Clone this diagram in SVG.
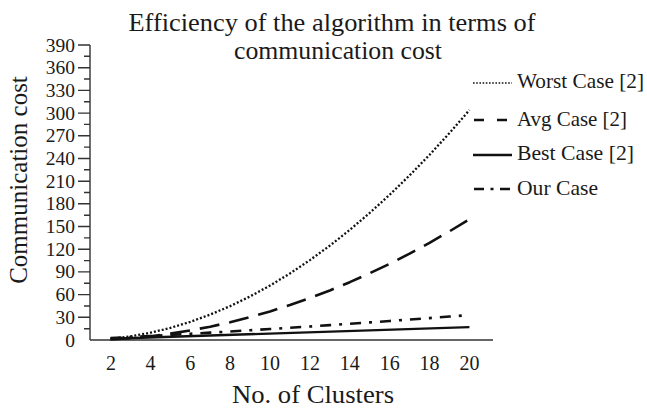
<svg xmlns="http://www.w3.org/2000/svg" width="647" height="408" viewBox="0 0 647 408">
<style>
text{font-family:"Liberation Serif","Times New Roman",serif;fill:#1a1a1a}
.tl{font-size:19.5px;text-anchor:end}
.xl{font-size:20px;text-anchor:middle}
.lg{font-size:21px}
.ax{stroke:#333;stroke-width:1.4;fill:none}
.c{fill:none;stroke:#111;stroke-linecap:butt;stroke-linejoin:round}
.worst{stroke-width:2.3;stroke-dasharray:2 2}
.avg{stroke-width:2.6;stroke-dasharray:20 10}
.best{stroke-width:2.4}
.our{stroke-width:2.6;stroke-dasharray:11 8 3 8}
</style>
<g id="title">
<text x="332" y="31" font-size="26" text-anchor="middle" textLength="407" lengthAdjust="spacingAndGlyphs">Efficiency of the algorithm in terms of</text>
<text x="338" y="59" font-size="26" text-anchor="middle" textLength="208" lengthAdjust="spacingAndGlyphs">communication cost</text>
</g>
<g id="y-axis">
<line class="ax" x1="90" y1="45" x2="90" y2="340"/>
<path class="ax" d="M78 45H90M78 67.7H90M78 90.4H90M78 113.1H90M78 135.8H90M78 158.5H90M78 181.2H90M78 203.8H90M78 226.5H90M78 249.2H90M78 271.9H90M78 294.6H90M78 317.3H90"/>
<path class="ax" d="M84 56.3H90M84 79H90M84 101.7H90M84 124.4H90M84 147.1H90M84 169.8H90M84 192.5H90M84 215.2H90M84 237.9H90M84 260.6H90M84 283.3H90M84 306H90M84 328.7H90"/>
<text class="tl" x="75" y="51.5">390</text>
<text class="tl" x="75" y="74.2">360</text>
<text class="tl" x="75" y="96.9">330</text>
<text class="tl" x="75" y="119.6">300</text>
<text class="tl" x="75" y="142.3">270</text>
<text class="tl" x="75" y="165">240</text>
<text class="tl" x="75" y="187.7">210</text>
<text class="tl" x="75" y="210.3">180</text>
<text class="tl" x="75" y="233">150</text>
<text class="tl" x="75" y="255.7">120</text>
<text class="tl" x="75" y="278.4">90</text>
<text class="tl" x="75" y="301.1">60</text>
<text class="tl" x="75" y="323.8">30</text>
<text class="tl" x="75" y="346.5">0</text>
<text x="27" y="180" font-size="25" text-anchor="middle" transform="rotate(-90 27 180)">Communication cost</text>
</g>
<g id="x-axis">
<line class="ax" x1="90" y1="340" x2="493" y2="340"/>
<text class="xl" x="111" y="370">2</text>
<text class="xl" x="150.4" y="370">4</text>
<text class="xl" x="190.3" y="370">6</text>
<text class="xl" x="230.1" y="370">8</text>
<text class="xl" x="270" y="370">10</text>
<text class="xl" x="309.9" y="370">12</text>
<text class="xl" x="349.8" y="370">14</text>
<text class="xl" x="389.7" y="370">16</text>
<text class="xl" x="429.5" y="370">18</text>
<text class="xl" x="469.4" y="370">20</text>
<text x="313" y="403" font-size="25" text-anchor="middle" textLength="162" lengthAdjust="spacingAndGlyphs">No. of Clusters</text>
</g>
<g id="connectors">
<polyline id="worst-curve" class="c worst" points="110.5,338.79 130.44,336.37 150.38,332.74 170.32,327.9 190.26,321.85 210.2,314.58 230.14,306.11 250.08,296.43 270.02,285.54 289.96,273.44 309.9,260.12 329.84,245.6 349.78,229.87 369.72,212.92 389.66,194.77 409.6,175.41 429.54,154.83 449.48,133.05 469.42,110.05"/>
<polyline id="avg-curve" class="c avg" points="110.5,339.36 130.44,338.09 150.38,336.19 170.32,333.65 190.26,330.47 210.2,326.66 230.14,322.21 250.08,317.13 270.02,311.41 289.96,305.05 309.9,298.07 329.84,290.44 349.78,282.18 369.72,273.29 389.66,263.75 409.6,253.59 429.54,242.79 449.48,231.35 469.42,219.28"/>
<polyline id="best-curve" class="c best" points="110.5,338.71 469.42,327.14"/>
<polyline id="our-curve" class="c our" points="110.5,338.05 130.44,337.03 150.38,335.98 170.32,334.89 190.26,333.78 210.2,332.64 230.14,331.47 250.08,330.27 270.02,329.03 289.96,327.77 309.9,326.48 329.84,325.15 349.78,323.8 369.72,322.41 389.66,321 409.6,319.55 429.54,318.08 449.48,316.57 469.42,315.04"/>
</g>
<g id="legend">
<g id="legend-worst">
<line class="c" x1="473" y1="83" x2="512" y2="83" stroke-width="1.6" stroke-dasharray="1.6 1.6"/>
<text class="lg" x="517" y="88" textLength="127" lengthAdjust="spacingAndGlyphs">Worst Case [2]</text>
</g>
<g id="legend-avg">
<line class="c" x1="474" y1="120" x2="510" y2="120" stroke-width="2.4" stroke-dasharray="10 13"/>
<text class="lg" x="517" y="125.5" textLength="110" lengthAdjust="spacingAndGlyphs">Avg Case [2]</text>
</g>
<g id="legend-best">
<line class="c" x1="473" y1="155" x2="512" y2="155" stroke-width="2.4"/>
<text class="lg" x="517" y="160" textLength="117" lengthAdjust="spacingAndGlyphs">Best Case [2]</text>
</g>
<g id="legend-our">
<line class="c" x1="474" y1="189" x2="510" y2="189" stroke-width="2.4" stroke-dasharray="10 6.5 3 6.5"/>
<text class="lg" x="517" y="195" textLength="81" lengthAdjust="spacingAndGlyphs">Our Case</text>
</g>
</g>
</svg>
